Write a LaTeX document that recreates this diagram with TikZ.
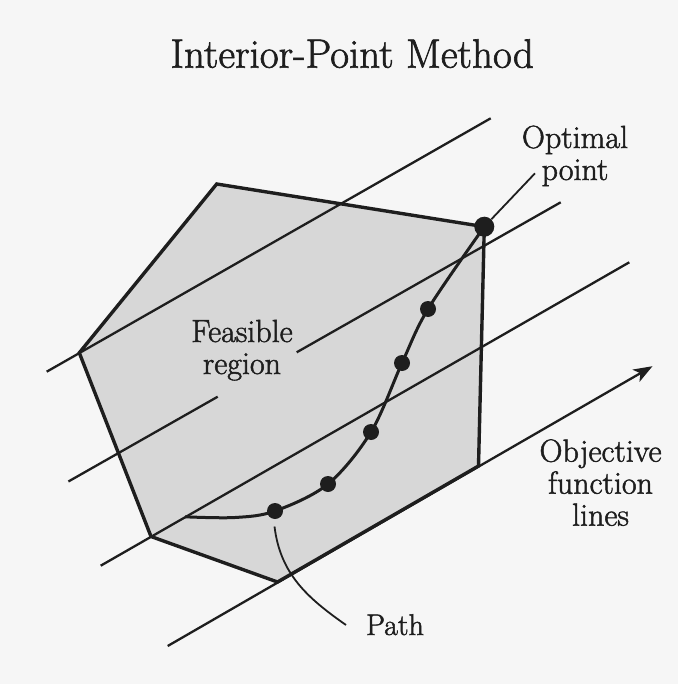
\documentclass[tikz,border=0pt]{standalone}
\usepackage{fontspec}
\newfontfamily\lblfont{Latin Modern Roman}[FakeBold=1.6]
\usetikzlibrary{arrows.meta}
\definecolor{bg}{HTML}{F6F6F6}
\definecolor{ink}{HTML}{1E1E1E}
\definecolor{regionfill}{HTML}{D7D7D7}
\begin{document}
\begin{tikzpicture}[x=1pt,y=-1pt,
  edge/.style={draw=ink, line width=3.4pt, line join=miter},
  objline/.style={draw=ink, line width=2.3pt},
  pathcurve/.style={draw=ink, line width=3pt},
  pointer/.style={draw=ink, line width=1.8pt},
  dot/.style={circle, fill=ink, inner sep=0pt, minimum size=16pt},
  bigdot/.style={circle, fill=ink, inner sep=0pt, minimum size=20pt},
  lbl/.style={text=ink, font=\lblfont\fontsize{32}{32}\selectfont, align=center, inner sep=0pt},
  titlestyle/.style={text=ink, font=\lblfont\fontsize{41}{44}\selectfont, inner sep=0pt}]
\useasboundingbox (0,0) rectangle (678,684);
\fill[bg] (0,0) rectangle (678,684);
% polygon vertices
\coordinate (vTL) at (216.7,184);
\coordinate (vTR) at (484.3,226.7);
\coordinate (vR) at (478.5,466);
\coordinate (vB) at (277.5,582);
\coordinate (vBL) at (151,536.5);
\coordinate (vL) at (79.3,352.8);
\fill[regionfill] (vTL) -- (vTR) -- (vR) -- (vB) -- (vBL) -- (vL) -- cycle;
% objective function lines
\coordinate (l1a) at (46.7,371.7);
\coordinate (l1b) at (490.7,118.3);
\coordinate (l2a) at (68.4,481.5);
\coordinate (l2b) at (217.7,396.7);
\coordinate (l2c) at (296.7,352.3);
\coordinate (l2d) at (560.7,202.3);
\coordinate (l3a) at (100.7,565.7);
\coordinate (l3b) at (629.3,262.3);
\coordinate (l4a) at (167.7,646);
\coordinate (l4b) at (652.5,366.2);
\draw[objline] (l1a) -- (l1b);
\draw[objline] (l2a) -- (l2b);
\draw[objline] (l2c) -- (l2d);
\draw[objline] (l3a) -- (l3b);
\draw[objline, -{Stealth[length=19pt,width=14pt,inset=5pt]}] (l4a) -- (l4b);
% polygon edges
\draw[edge] (vTL) -- (vTR) -- (vR) -- (vB) -- (vBL) -- (vL) -- cycle;
% central path
\coordinate (pS) at (185,516.8);
\coordinate (pM) at (235,517.5);
\node[dot] (d1) at (275,511) {};
\node[dot] (d2) at (328,484) {};
\node[dot] (d3) at (371,432) {};
\node[dot] (d4) at (402,363) {};
\node[dot] (d5) at (428,309) {};
\node[bigdot] (opt) at (484.3,226.7) {};
\draw[pathcurve] plot[smooth, tension=0.55] coordinates {(pS) (pM) (d1.center) (d2.center) (d3.center) (d4.center) (d5.center) (opt.center)};
% labels
\node[titlestyle, anchor=base] (title) at (352.2,67.7) {Interior-Point Method};
\node[lbl, anchor=base] (optlbl) at (575,180) {Optimal\\point};
\node[lbl, anchor=base] (feas) at (242,374) {Feasible\\region};
\node[lbl, anchor=base] (objlbl) at (600.5,525.7) {Objective\\function\\lines};
\node[lbl, font=\lblfont\fontsize{30}{32}\selectfont, anchor=base] (pathlbl) at (395,635) {Path};
% pointers
\coordinate (optend) at (535,173.3);
\draw[pointer] (opt) -- (optend);
\coordinate (pathend) at (346,625);
\coordinate (pathstart) at (274.5,526.5);
\draw[pointer] (pathstart) to[out=-83, in=145] (pathend);
\end{tikzpicture}
\end{document}
